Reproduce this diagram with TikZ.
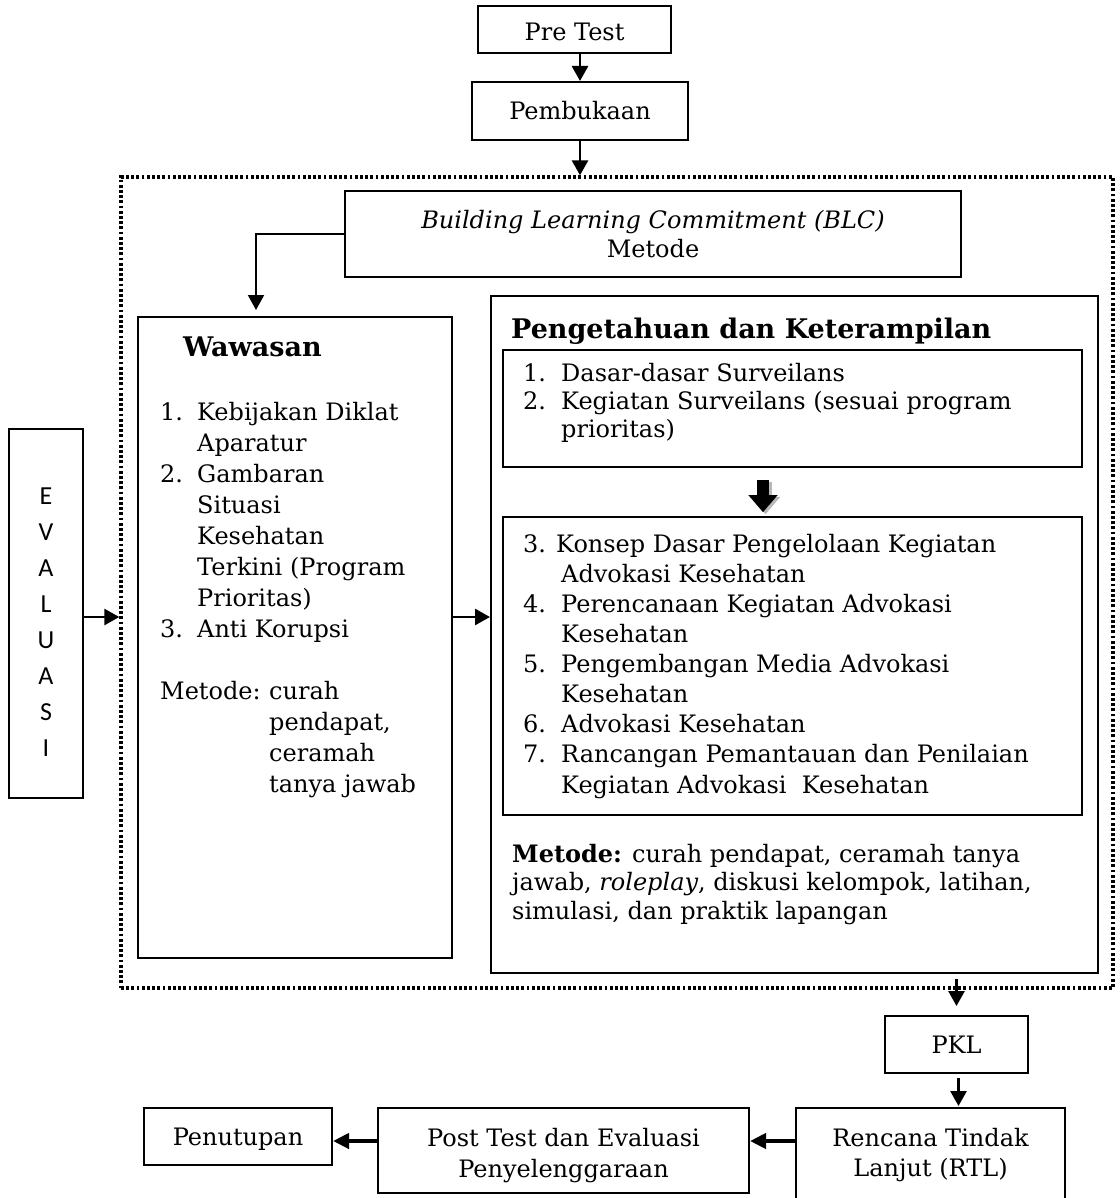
\documentclass[tikz,border=0pt]{standalone}
\usepackage{fontspec}
\setmainfont{DejaVu Serif}
\newfontfamily\evfont{Carlito}
\usetikzlibrary{arrows.meta,calc}
\newcommand\bodyfont{\fontsize{24}{29.8}\selectfont}
\newcommand\titlefont{\fontsize{27}{32}\selectfont\bfseries}
\begin{document}
\begin{tikzpicture}[x=1pt,y=-1pt,
  box/.style={draw, line width=2pt, rectangle, inner sep=0pt, font=\bodyfont, text height=20pt, text depth=2pt},
  inbox/.style={box, line width=1.6pt},
  arr/.style={line width=2.7pt, -{Triangle[width=16pt,length=15pt]}},
  thinarr/.style={line width=2pt, -{Triangle[width=16pt,length=15pt]}},
  thickarr/.style={line width=4pt, -{Triangle[width=15pt,length=16pt]}},
  txt/.style={inner sep=0pt, anchor=base west, font=\bodyfont}]
\useasboundingbox (0,0) rectangle (1119,1198);
\clip (0,0) rectangle (1119,1198);

% top boxes
\node[box, text height=23pt, text depth=1pt, minimum width=193pt, minimum height=47pt] (pre) at (574.5,29.5) {Pre Test};
\node[box, minimum width=216pt, minimum height=58pt] (pemb) at (580,111) {Pembukaan};

% dotted frame
\node[draw, line width=3.4pt, dash pattern=on 2.8pt off 2.4pt, minimum width=992pt, minimum height=811pt, inner sep=0pt] (frame) at (617,582.5) {};

% BLC
\node[box, minimum width=616pt, minimum height=86pt] (blc) at (653,234) {};
\node[txt, anchor=base] (blct1) at (653,229) {\itshape Building Learning Commitment (BLC)};
\node[txt, anchor=base] (blct2) at (653,258) {Metode};

% Wawasan
\node[box, minimum width=314pt, minimum height=641pt] (waw) at (295,637.5) {};
\node[txt, font=\titlefont] (wawt) at (183,356) {Wawasan};
\node[txt] (wawl) at (160,420) {\fontsize{24}{31}\selectfont\begin{tabular}[t]{@{}l@{}l@{}}
\makebox[37pt][l]{1.} & Kebijakan Diklat\\
 & Aparatur\\
2. & Gambaran\\
 & Situasi\\
 & Kesehatan\\
 & Terkini (Program\\
 & Prioritas)\\
3. & Anti Korupsi\\
\multicolumn{2}{@{}l@{}}{}\\
\multicolumn{2}{@{}l@{}}{\makebox[109pt][l]{Metode:}curah}\\
\multicolumn{2}{@{}l@{}}{\hspace{109pt}pendapat,}\\
\multicolumn{2}{@{}l@{}}{\hspace{109pt}ceramah}\\
\multicolumn{2}{@{}l@{}}{\hspace{109pt}tanya jawab}
\end{tabular}};

% Pengetahuan dan Keterampilan
\node[box, minimum width=607pt, minimum height=677pt] (pk) at (794.5,634.5) {};
\node[txt, font=\titlefont] (pkt) at (511,338) {Pengetahuan dan Keterampilan};
\node[inbox, minimum width=579pt, minimum height=117pt] (in1) at (792.5,408.5) {};
\node[txt] (in1t) at (523,381) {\fontsize{24}{28.3}\selectfont\begin{tabular}[t]{@{}l@{}l@{}}
\makebox[38pt][l]{1.} & Dasar-dasar Surveilans\\
2. & Kegiatan Surveilans (sesuai program\\
 & prioritas)
\end{tabular}};
\node[inbox, minimum width=579pt, minimum height=298pt] (in2) at (792.5,666) {};
\node[txt] (in2t) at (523,552) {\fontsize{24}{30}\selectfont\begin{tabular}[t]{@{}l@{}l@{}}
\multicolumn{2}{@{}l@{}}{\makebox[33pt][l]{3.}Konsep Dasar Pengelolaan Kegiatan}\\
\makebox[38pt][l]{} & Advokasi Kesehatan\\
4. & Perencanaan Kegiatan Advokasi\\
 & Kesehatan\\
5. & Pengembangan Media Advokasi\\
 & Kesehatan\\
6. & Advokasi Kesehatan\\
7. & Rancangan Pemantauan dan Penilaian\\[1pt]
 & Kegiatan Advokasi\ \ Kesehatan
\end{tabular}};
\node[txt] (pkm) at (512,862) {\fontsize{24}{28.5}\selectfont\begin{tabular}[t]{@{}l@{}}
\textbf{Metode:} curah pendapat, ceramah tanya\\
jawab, \textit{roleplay}, diskusi kelompok, latihan,\\
simulasi, dan praktik lapangan
\end{tabular}};

% block arrow between inner boxes
\coordinate (bx) at (763,0);
\draw[gray!55, line width=12pt, -{Triangle[width=28pt,length=17pt]}] ($(in1.south -| bx)+(2.5,14)$) -- ($(in2.north -| bx)+(2.5,-2)$);
\draw[black, line width=12pt, -{Triangle[width=28pt,length=17pt]}] ($(in1.south -| bx)+(0,12)$) -- ($(in2.north -| bx)+(0,-4)$);

% EVALUASI
\node[box, minimum width=74pt, minimum height=369pt] (ev) at (46,613.5) {};
\node[inner sep=0pt, anchor=base] (evt) at (46,504) {\evfont\fontsize{26}{36}\selectfont\begin{tabular}[t]{@{}c@{}}E\\V\\A\\L\\U\\A\\S\\I\end{tabular}};

% bottom boxes
\node[box, minimum width=143pt, minimum height=57pt] (pkl) at (956.5,1044.5) {PKL};
\node[box, minimum width=269pt, minimum height=102pt] (rtl) at (930.5,1159) {};
\node[inner sep=0pt, anchor=base] (rtlt) at (930.5,1146) {\fontsize{24}{30}\selectfont\begin{tabular}[t]{@{}c@{}}Rencana Tindak\\Lanjut (RTL)\end{tabular}};
\node[box, minimum width=371pt, minimum height=85pt] (post) at (563.5,1150.5) {};
\node[inner sep=0pt, anchor=base] (postt) at (563.5,1146) {\fontsize{24}{31}\selectfont\begin{tabular}[t]{@{}c@{}}Post Test dan Evaluasi\\Penyelenggaraan\end{tabular}};
\node[box, minimum width=188pt, minimum height=57pt] (pen) at (238,1136.5) {Penutupan};

% connectors
\draw[arr] (pre.south -| pemb.north) -- (pemb.north);
\draw[arr] (pemb.south) -- (pemb.south |- frame.north);
\draw[thinarr] (blc.west) -| ($(waw.north)+(-39,-6)$);
\draw[arr] ($(ev.east)+(0,3.5)$) -- ($(ev.east -| frame.west)+(0,3.5)$);
\draw[arr] ($(waw.east)+(0,-20.5)$) -- ($(waw.east -| pk.west)+(0,-20.5)$);
\draw[arr] ($(pkl.north |- pk.south)+(0,5)$) -- ($(pkl.north)+(0,-9)$);
\draw[arr] ($(pkl.south)+(2,4)$) -- ($(pkl.south |- rtl.north)+(2,-1)$);
\draw[thickarr] ($(rtl.west)+(0,-18)$) -- ($(post.east |- rtl.west)+(0,-18)$);
\draw[thickarr] ($(post.west)+(0,-9.5)$) -- ($(pen.east |- post.west)+(0,-9.5)$);
\end{tikzpicture}
\end{document}
